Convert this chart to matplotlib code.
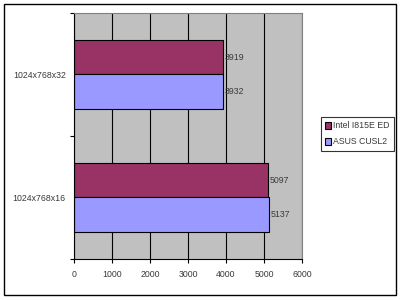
import matplotlib
matplotlib.use('Agg')
import matplotlib.pyplot as plt
from matplotlib.patches import Rectangle

categories = ['1024x768x16', '1024x768x32']
intel = [5097, 3919]
asus = [5137, 3932]
series_names = ['Intel I815E ED', 'ASUS CUSL2']
xticks = [0, 1000, 2000, 3000, 4000, 5000, 6000]

plt.rcParams['font.family'] = ['Liberation Sans', 'DejaVu Sans']
fs = 6.3
txt = '#3a3a3a'

fig = plt.figure(figsize=(4, 3), dpi=100)
ax = fig.add_axes([0.185, 0.1367, 0.57, 0.82])
ax.set_facecolor('#C0C0C0')

# outer frame around the whole chart
fig.patches.append(Rectangle((4 / 400, 5 / 300), 392 / 400, 291 / 300,
                             transform=fig.transFigure, fill=False,
                             edgecolor='black', linewidth=1))

h = 0.28
centers = [0.5, 1.5]
y_intel = [c + h / 2 for c in centers]
y_asus = [c - h / 2 for c in centers]
ax.barh(y_intel, intel, height=h, color='#993366', edgecolor='black',
        linewidth=0.8, label=series_names[0])
ax.barh(y_asus, asus, height=h, color='#9999FF', edgecolor='black',
        linewidth=0.8, label=series_names[1])

for y, v in zip(y_intel + y_asus, intel + asus):
    ax.text(v + 40, y, str(v), va='center', ha='left', fontsize=fs, color=txt)

ax.set_xlim(0, 6000)
ax.set_ylim(0, 2)
ax.set_xticks(xticks)
ax.set_xticklabels([str(t) for t in xticks], fontsize=fs, color=txt)
ax.tick_params(axis='x', direction='out', length=3, width=0.8, pad=5)

ax.set_yticks([0, 1, 2])
ax.set_yticklabels([])
ax.set_yticks(centers, minor=True)
ax.set_yticklabels(categories, minor=True, fontsize=fs, color=txt)
ax.tick_params(axis='y', which='major', direction='out', length=3, width=0.8)
ax.tick_params(axis='y', which='minor', length=0, pad=6)

ax.set_axisbelow(True)
ax.xaxis.grid(True, color='black', linewidth=0.8)
ax.spines['left'].set_color('black')
ax.spines['bottom'].set_color('black')
ax.spines['right'].set_color('#808080')
ax.spines['top'].set_color('#808080')

leg = ax.legend(loc='upper left', bbox_to_anchor=(321 / 400, 183 / 300),
                bbox_transform=fig.transFigure, fontsize=fs, frameon=True,
                fancybox=False, edgecolor='black', handlelength=0.6,
                handleheight=0.9, handletextpad=0.3, borderpad=0.5,
                labelspacing=0.8, borderaxespad=0)
leg.get_frame().set_linewidth(0.8)
for t in leg.get_texts():
    t.set_color(txt)

plt.savefig('out.png', dpi=100)
